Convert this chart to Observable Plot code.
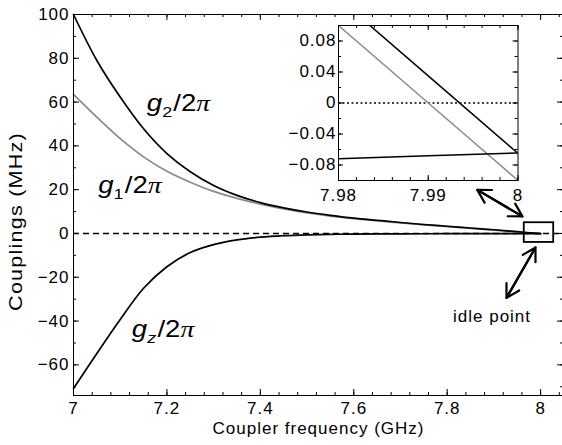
<!DOCTYPE html>
<html><head><meta charset="utf-8">
<script src="https://cdn.jsdelivr.net/npm/d3@7"></script>
<script src="https://cdn.jsdelivr.net/npm/@observablehq/plot@0.6"></script>
<style>
body{margin:0;background:#fff;}
#wrap{position:relative;width:562px;height:445px;overflow:hidden;}
#wrap svg{position:absolute;left:0;top:0;}
</style></head><body><div id="wrap"></div>
<script>
// ---- data ----
const freq = [7.00,7.05,7.10,7.15,7.20,7.25,7.30,7.35,7.40,7.45,7.50,7.55,7.60,7.65,7.70,7.75,7.80,7.85,7.90,7.95,8.00];
const g2 = [100,79,62.3,47.8,36.5,28.2,21.9,17.4,14.1,11.7,9.8,8.3,7.0,6.0,5.0,4.1,3.3,2.5,1.7,0.8,-0.06];
const g1 = [63.5,53.1,43.3,35.0,28.4,23.4,19.2,16.0,13.4,11.2,9.4,7.95,6.8,5.8,4.8,3.95,3.15,2.35,1.5,0.65,-0.1];
const gz = [-70.8,-54.8,-39.3,-25.0,-15.2,-8.7,-5.1,-2.9,-1.7,-1.0,-0.6,-0.4,-0.3,-0.22,-0.17,-0.13,-0.11,-0.09,-0.08,-0.07,-0.065];

const insetFreq = [7.98, 7.99, 8.00];
const insetG2 = [0.135, 0.035, -0.065];
const insetG1 = [0.1, 0.0, -0.1];
const insetGz = [-0.072, -0.068, -0.0645];

const xTicks = [7, 7.2, 7.4, 7.6, 7.8, 8];
const yTicks = [-60, -40, -20, 0, 20, 40, 60, 80, 100];
const insetXTicks = [7.98, 7.99, 8];
const insetYTicks = [-0.08, -0.04, 0, 0.04, 0.08];

const xLabel = "Coupler frequency (GHz)";
const yLabel = "Couplings (MHz)";
const idleLabel = "idle point";
const curveLabels = [
  {x: 7.158, y: 55.7, sub: "2", italic: false},
  {x: 7.054, y: 18.3, sub: "1", italic: false},
  {x: 7.126, y: -47.5, sub: "z", italic: true}
];
const idleBox = [{x1: 7.965, x2: 8.028, y1: -4.1, y2: 4.9}];
const arrowsData = [
  {x1: 7.8645, y1: 19.9, x2: 7.961, y2: 7.8},
  {x1: 7.961, y1: 7.8, x2: 7.8645, y2: 19.9},
  {x1: 7.989, y1: -6.4, x2: 7.927, y2: -29.4},
  {x1: 7.927, y1: -29.4, x2: 7.989, y2: -6.4}
];
const idleText = [{x: 7.896, y: -40.6, t: idleLabel}];

// ---- helpers ----
const range = (a, b, s) => { const r = []; for (let v = a; v <= b + s/1000; v += s) r.push(+v.toFixed(6)); return r; };
const fmtMain = d3.format("~g");
const fmtInsetY = d => d === 0 ? "0" : d3.format(".2f")(d);
const rows = (xs, ys) => xs.map((x, i) => ({x, y: ys[i]}));

function frameTicks(xs, ys, xd, yd, len, sw) {
  return [
    Plot.ruleX(xs, {x: d => d, y1: yd[0], y2: yd[0], insetTop: -len, strokeWidth: sw}),
    Plot.ruleX(xs, {x: d => d, y1: yd[1], y2: yd[1], insetBottom: -len, strokeWidth: sw}),
    Plot.ruleY(ys, {y: d => d, x1: xd[0], x2: xd[0], insetRight: -len, strokeWidth: sw}),
    Plot.ruleY(ys, {y: d => d, x1: xd[1], x2: xd[1], insetLeft: -len, strokeWidth: sw})
  ];
}

const xDom = [7, 8.049], yDom = [-74, 100];
const font = "'Liberation Sans', Arial, Helvetica, sans-serif";

const main = Plot.plot({
  width: 562, height: 445,
  marginLeft: 73, marginRight: -1, marginTop: 14, marginBottom: 50,
  style: {fontFamily: font, fontSize: "17px", letterSpacing: "1px", background: "white", color: "black"},
  x: {domain: xDom, axis: null},
  y: {domain: yDom, axis: null},
  marks: [
    Plot.ruleY([0], {strokeDasharray: "6,4", strokeWidth: 1.4, stroke: "black"}),
    Plot.line(rows(freq, g1), {x: "x", y: "y", stroke: "#8a8a8a", strokeWidth: 1.7, curve: "catmull-rom"}),
    Plot.line(rows(freq, g2), {x: "x", y: "y", stroke: "black", strokeWidth: 1.7, curve: "catmull-rom"}),
    Plot.line(rows(freq, gz), {x: "x", y: "y", stroke: "black", strokeWidth: 1.7, curve: "catmull-rom"}),
    Plot.rect(idleBox, {x1: "x1", x2: "x2", y1: "y1", y2: "y2", fill: "none", stroke: "black", strokeWidth: 1.8}),
    Plot.arrow(arrowsData, {x1: "x1", y1: "y1", x2: "x2", y2: "y2", bend: 0, headLength: 10, headAngle: 60, strokeWidth: 2.2, stroke: "black"}),
    Plot.text(idleText, {x: "x", y: "y", text: "t", textAnchor: "middle", lineAnchor: "bottom", fontSize: 17}),
    ...frameTicks(xTicks, yTicks, xDom, yDom, 6, 1),
    ...frameTicks(range(7, 8.04, 0.04), range(-70, 100, 10), xDom, yDom, 3, 1),
    Plot.frame({stroke: "black", strokeWidth: 1}),
    Plot.axisX({ticks: xTicks, tickSize: 0, tickPadding: 6, tickFormat: fmtMain, anchor: "bottom", label: null}),
    Plot.axisY({ticks: yTicks, tickSize: 0, tickPadding: 4, tickFormat: fmtMain, anchor: "left", label: null}),
    Plot.text([xLabel], {frameAnchor: "bottom", lineAnchor: "bottom", dy: 38, text: d => d, fontSize: 17})
  ]
});

const ixDom = [7.98, 8], iyDom = [-0.1, 0.1];
const inset = Plot.plot({
  width: 562, height: 445,
  marginLeft: 338, marginRight: 44.5, marginTop: 25, marginBottom: 265,
  style: {fontFamily: font, fontSize: "17px", letterSpacing: "1px", background: "transparent", color: "black"},
  x: {domain: ixDom, axis: null},
  y: {domain: iyDom, axis: null},
  marks: [
    Plot.frame({fill: "white", stroke: null}),
    Plot.ruleY([0], {strokeDasharray: "2,2.5", strokeWidth: 1.4, stroke: "black"}),
    Plot.line(rows(insetFreq, insetG1), {x: "x", y: "y", stroke: "#8a8a8a", strokeWidth: 1.5, clip: true}),
    Plot.line(rows(insetFreq, insetG2), {x: "x", y: "y", stroke: "black", strokeWidth: 1.5, clip: true}),
    Plot.line(rows(insetFreq, insetGz), {x: "x", y: "y", stroke: "black", strokeWidth: 1.5, clip: true}),
    ...frameTicks(insetXTicks, insetYTicks, ixDom, iyDom, 5, 1),
    ...frameTicks(range(7.98, 8, 0.002), range(-0.1, 0.1, 0.02), ixDom, iyDom, 3, 1),
    Plot.frame({stroke: "black", strokeWidth: 1}),
    Plot.axisX({ticks: insetXTicks, tickSize: 0, tickPadding: 8, tickFormat: d => fmtMain(d), anchor: "bottom", label: null}),
    Plot.axisY({ticks: insetYTicks, tickSize: 0, tickPadding: 2, tickFormat: fmtInsetY, anchor: "left", label: null})
  ]
});

const wrap = document.getElementById("wrap");
wrap.appendChild(main);
wrap.appendChild(inset);

const sx = main.scale("x"), sy = main.scale("y");
const svg = d3.select(main);

// y-axis title
const yMid = (sy.apply(yDom[0]) + sy.apply(yDom[1])) / 2 + 17;
svg.append("text")
  .attr("transform", `translate(22,${yMid}) rotate(-90) scale(1.2,1)`)
  .attr("text-anchor", "middle").attr("font-size", 18).attr("letter-spacing", 1)
  .attr("font-family", font).attr("fill", "black").text(yLabel);

// math-style curve labels positioned through the main plot's scales
for (const L of curveLabels) {
  const px = sx.apply(L.x), py = sy.apply(L.y);
  const t = svg.append("text")
    .attr("transform", `translate(${px},${py}) scale(1.2,1)`)
    .attr("text-anchor", "start")
    .attr("font-size", 23).attr("font-family", font).attr("letter-spacing", 0).attr("fill", "black");
  t.append("tspan").attr("font-style", "italic").text("g");
  t.append("tspan").attr("font-size", 15).attr("dy", 6).attr("font-style", L.italic ? "italic" : "normal").text(L.sub);
  t.append("tspan").attr("dy", -6).attr("dx", 1).text("/2");
  t.append("tspan").attr("font-family", "'Liberation Serif', serif").attr("font-style", "italic").text("π");
}
</script></body></html>
